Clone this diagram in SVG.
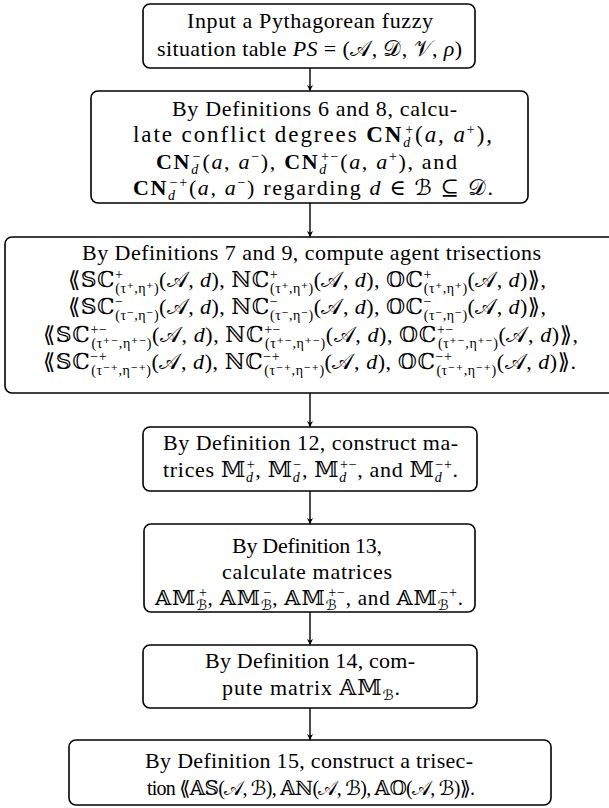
<svg xmlns="http://www.w3.org/2000/svg" width="609" height="808" viewBox="0 0 609 808">
<style>
text{font-family:"Liberation Serif","DejaVu Serif","DejaVu Sans",serif;font-size:22px;fill:#000}
.i{font-style:italic}
.b{font-weight:bold}
.s{font-size:14px}
.box{fill:#fff;stroke:#000;stroke-width:1.6}
.c{stroke:#000;stroke-width:1.4;fill:none;marker-end:url(#ah)}
</style>
<defs>
<marker id="ah" viewBox="0 0 10 10" refX="10" refY="5" markerWidth="6" markerHeight="6" markerUnits="userSpaceOnUse" orient="auto">
<path d="M0,0 L10,5 L0,10 L3,5 Z" fill="#000"/>
</marker>
</defs>
<g id="connectors">
<line class="c" x1="310" y1="68" x2="310" y2="91"/>
<line class="c" x1="310" y1="203" x2="310" y2="237"/>
<line class="c" x1="310" y1="393" x2="310" y2="427"/>
<line class="c" x1="310" y1="491" x2="310" y2="524"/>
<line class="c" x1="310" y1="612" x2="310" y2="645"/>
<line class="c" x1="310" y1="708" x2="310" y2="740"/>
</g>
<g id="n1">
<rect class="box" x="143" y="4" width="332" height="64" rx="7"/>
<text x="187" y="28" textLength="246">Input a Pythagorean fuzzy</text>
<text x="157" y="56" textLength="305">situation table <tspan class="i">PS</tspan> = (𝒜, 𝒟, 𝒱, <tspan class="i">ρ</tspan>)</text>
</g>
<g id="n2">
<rect class="box" x="91" y="91" width="437" height="112" rx="7"/>
<text x="172" y="116" textLength="285">By Definitions 6 and 8, calcu-</text>
<text x="133" y="142" textLength="359" style="font-size:23px">late conflict degrees <tspan class="b">CN</tspan><tspan class="s i" baseline-shift="-5">d</tspan><tspan class="s" dx="-7" baseline-shift="8">+</tspan>(<tspan class="i">a</tspan>, <tspan class="i">a</tspan><tspan class="s" baseline-shift="8">+</tspan>),</text>
<text x="156" y="169" textLength="301"><tspan class="b">CN</tspan><tspan class="s i" baseline-shift="-5">d</tspan><tspan class="s" dx="-7" baseline-shift="8">−</tspan>(<tspan class="i">a</tspan>, <tspan class="i">a</tspan><tspan class="s" baseline-shift="8">−</tspan>), <tspan class="b">CN</tspan><tspan class="s i" baseline-shift="-5">d</tspan><tspan class="s" dx="-7" baseline-shift="8">+−</tspan>(<tspan class="i">a</tspan>, <tspan class="i">a</tspan><tspan class="s" baseline-shift="8">+</tspan>), and</text>
<text x="133" y="195" textLength="360"><tspan class="b">CN</tspan><tspan class="s i" baseline-shift="-5">d</tspan><tspan class="s" dx="-7" baseline-shift="8">−+</tspan>(<tspan class="i">a</tspan>, <tspan class="i">a</tspan><tspan class="s" baseline-shift="8">−</tspan>) regarding <tspan class="i">d</tspan> ∈ ℬ ⊆ 𝒟.</text>
</g>
<g id="n3">
<rect class="box" x="5" y="237" width="612" height="156" rx="7"/>
<text x="82" y="260" textLength="459">By Definitions 7 and 9, compute agent trisections</text>
<text x="68" y="287" textLength="478">⟪𝕊ℂ<tspan class="s" baseline-shift="8">+</tspan><tspan class="s" dx="-8" baseline-shift="-6">(τ⁺,η⁺)</tspan>(𝒜, <tspan class="i">d</tspan>), ℕℂ<tspan class="s" baseline-shift="8">+</tspan><tspan class="s" dx="-8" baseline-shift="-6">(τ⁺,η⁺)</tspan>(𝒜, <tspan class="i">d</tspan>), 𝕆ℂ<tspan class="s" baseline-shift="8">+</tspan><tspan class="s" dx="-8" baseline-shift="-6">(τ⁺,η⁺)</tspan>(𝒜, <tspan class="i">d</tspan>)⟫,</text>
<text x="68" y="314" textLength="478">⟪𝕊ℂ<tspan class="s" baseline-shift="8">−</tspan><tspan class="s" dx="-8" baseline-shift="-6">(τ⁻,η⁻)</tspan>(𝒜, <tspan class="i">d</tspan>), ℕℂ<tspan class="s" baseline-shift="8">−</tspan><tspan class="s" dx="-8" baseline-shift="-6">(τ⁻,η⁻)</tspan>(𝒜, <tspan class="i">d</tspan>), 𝕆ℂ<tspan class="s" baseline-shift="8">−</tspan><tspan class="s" dx="-8" baseline-shift="-6">(τ⁻,η⁻)</tspan>(𝒜, <tspan class="i">d</tspan>)⟫,</text>
<text x="43" y="342" textLength="535">⟪𝕊ℂ<tspan class="s" baseline-shift="8">+−</tspan><tspan class="s" dx="-16" baseline-shift="-6">(τ⁺⁻,η⁺⁻)</tspan>(𝒜, <tspan class="i">d</tspan>), ℕℂ<tspan class="s" baseline-shift="8">+−</tspan><tspan class="s" dx="-16" baseline-shift="-6">(τ⁺⁻,η⁺⁻)</tspan>(𝒜, <tspan class="i">d</tspan>), 𝕆ℂ<tspan class="s" baseline-shift="8">+−</tspan><tspan class="s" dx="-16" baseline-shift="-6">(τ⁺⁻,η⁺⁻)</tspan>(𝒜, <tspan class="i">d</tspan>)⟫,</text>
<text x="43" y="369" textLength="533">⟪𝕊ℂ<tspan class="s" baseline-shift="8">−+</tspan><tspan class="s" dx="-16" baseline-shift="-6">(τ⁻⁺,η⁻⁺)</tspan>(𝒜, <tspan class="i">d</tspan>), ℕℂ<tspan class="s" baseline-shift="8">−+</tspan><tspan class="s" dx="-16" baseline-shift="-6">(τ⁻⁺,η⁻⁺)</tspan>(𝒜, <tspan class="i">d</tspan>), 𝕆ℂ<tspan class="s" baseline-shift="8">−+</tspan><tspan class="s" dx="-16" baseline-shift="-6">(τ⁻⁺,η⁻⁺)</tspan>(𝒜, <tspan class="i">d</tspan>)⟫.</text>
</g>
<g id="n4">
<rect class="box" x="143" y="427" width="334" height="64" rx="7"/>
<text x="163" y="450" textLength="295">By Definition 12, construct ma-</text>
<text x="163" y="477" textLength="295">trices 𝕄<tspan class="s i" baseline-shift="-5">d</tspan><tspan class="s" dx="-7" baseline-shift="8">+</tspan>, 𝕄<tspan class="s i" baseline-shift="-5">d</tspan><tspan class="s" dx="-7" baseline-shift="8">−</tspan>, 𝕄<tspan class="s i" baseline-shift="-5">d</tspan><tspan class="s" dx="-7" baseline-shift="8">+−</tspan>, and 𝕄<tspan class="s i" baseline-shift="-5">d</tspan><tspan class="s" dx="-7" baseline-shift="8">−+</tspan>.</text>
</g>
<g id="n5">
<rect class="box" x="144" y="524" width="331" height="88" rx="7"/>
<text x="232" y="553" textLength="150">By Definition 13,</text>
<text x="222" y="579" textLength="170">calculate matrices</text>
<text x="155" y="605" textLength="308" style="font-size:21px">𝔸𝕄<tspan class="s" baseline-shift="-5">ℬ</tspan><tspan class="s" dx="-9" baseline-shift="8">+</tspan>, 𝔸𝕄<tspan class="s" baseline-shift="-5">ℬ</tspan><tspan class="s" dx="-9" baseline-shift="8">−</tspan>, 𝔸𝕄<tspan class="s" baseline-shift="-5">ℬ</tspan><tspan class="s" dx="-9" baseline-shift="8">+−</tspan>, and 𝔸𝕄<tspan class="s" baseline-shift="-5">ℬ</tspan><tspan class="s" dx="-9" baseline-shift="8">−+</tspan>.</text>
</g>
<g id="n6">
<rect class="box" x="143" y="645" width="334" height="63" rx="7"/>
<text x="205" y="668" textLength="210">By Definition 14, com-</text>
<text x="222" y="695" textLength="178">pute matrix 𝔸𝕄<tspan class="s" baseline-shift="-5">ℬ</tspan>.</text>
</g>
<g id="n7">
<rect class="box" x="69" y="740" width="482" height="65" rx="7"/>
<text x="145" y="768" textLength="328">By Definition 15, construct a trisec-</text>
<text x="147" y="795" textLength="328" style="font-size:20px">tion ⟪𝔸𝕊(𝒜, ℬ), 𝔸ℕ(𝒜, ℬ), 𝔸𝕆(𝒜, ℬ)⟫.</text>
</g>
</svg>
